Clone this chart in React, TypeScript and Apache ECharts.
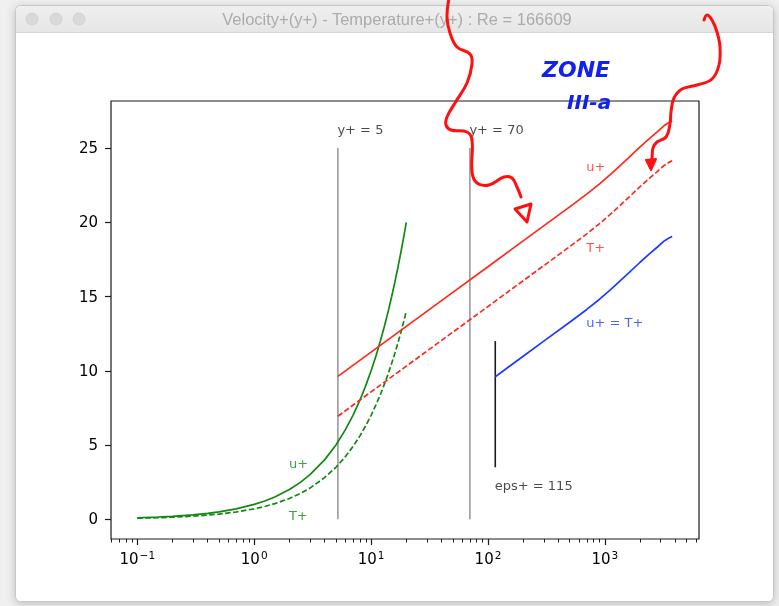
import React, { useEffect, useRef } from "react";
import * as echarts from "echarts";

// ---- axis ticks ----
const decadeTicks = [-1, 0, 1, 2, 3];
const yTickValues = [0, 5, 10, 15, 20, 25];
const X_MIN = -1.225; // log10(y+)
const X_MAX = 3.805;
const Y_MIN = -1.33;
const Y_MAX = 28.17;

// ---- viscous sublayer (green) ----
const laminarYPlus = [0.1, 0.15, 0.2, 0.3, 0.4, 0.5, 0.7, 1, 1.25, 1.5, 2, 2.5, 3, 4, 5, 6, 7, 8, 9, 10, 11, 12, 13, 14, 15, 16, 17, 18, 19, 20];
const laminarU = [0.1, 0.15, 0.2, 0.3, 0.4, 0.5, 0.7, 1, 1.25, 1.5, 2, 2.5, 3, 4, 5, 6, 7, 8, 9, 10, 11, 12, 13, 14, 15, 16, 17, 18, 19, 20];
const laminarT = [0.07, 0.105, 0.14, 0.21, 0.28, 0.35, 0.49, 0.7, 0.875, 1.05, 1.4, 1.75, 2.1, 2.8, 3.5, 4.2, 4.9, 5.6, 6.3, 7.0, 7.7, 8.4, 9.1, 9.8, 10.5, 11.2, 11.9, 12.6, 13.3, 14.0];

// ---- log region, smooth wall (red) ----
const logYPlus = [5.2, 10, 20, 50, 100, 200, 500, 700, 900, 1100, 1300, 1600, 2000, 2400, 2800, 3200, 3500, 3760];
const logU = [9.62, 11.26, 12.99, 15.28, 17.01, 18.75, 21.04, 21.9, 22.59, 23.18, 23.7, 24.36, 25.08, 25.64, 26.09, 26.5, 26.7, 26.82];
const logT = [6.94, 8.58, 10.31, 12.6, 14.33, 16.07, 18.36, 19.22, 19.91, 20.5, 21.02, 21.68, 22.4, 22.96, 23.41, 23.82, 24.02, 24.14];

// ---- rough wall (blue) ----
const roughYPlus = [115.4, 200, 300, 500, 700, 900, 1100, 1300, 1600, 2000, 2400, 2800, 3200, 3500, 3760];
const roughU = [9.6, 10.98, 12.0, 13.27, 14.13, 14.82, 15.41, 15.93, 16.59, 17.31, 17.87, 18.32, 18.73, 18.93, 19.05];

// ---- markers ----
const yPlusLimits = [5.2, 70];
const limitSpan = [0, 25];
const epsPlus = 115.4;
const epsSpan = [3.5, 12];

// ---- text annotations [label, y+, value, colorKey] ----
const textLabels: [string, number, number, string][] = [
  ["y+ = 5", 5.2, 26, "k"],
  ["y+ = 70", 70, 26, "k"],
  ["u+", 700, 23.5, "r"],
  ["T+", 700, 18, "r"],
  ["u+ = T+", 700, 13, "b"],
  ["u+", 2, 3.5, "g"],
  ["T+", 2, 0, "g"],
  ["eps+ = 115", 115.4, 2, "k"],
];

const COLORS: Record<string, string> = {
  r: "#ff2a1a",
  g: "#118811",
  b: "#1f3bff",
  k: "#1a1a1a",
  gray: "#9a9a9a",
};

const FONT = "'DejaVu Sans', sans-serif";

const lg = (v: number) => Math.log10(v);
const pairs = (xs: number[], ys: number[]) => xs.map((x, i) => [lg(x), ys[i]]);

const minorTicks: number[] = [];
for (let n = -2; n <= 3; n++) {
  for (let k = 2; k <= 9; k++) {
    const v = lg(k * Math.pow(10, n));
    if (v > X_MIN && v < X_MAX) minorTicks.push(v);
  }
}

function buildOption() {
  const lineBase = {
    type: "line",
    showSymbol: false,
    symbol: "none",
    silent: true,
    smooth: false,
    xAxisIndex: 0,
    yAxisIndex: 0,
  };

  const series: any[] = [
    ...yPlusLimits.map((yp) => ({
      ...lineBase,
      data: [[lg(yp), limitSpan[0]], [lg(yp), limitSpan[1]]],
      lineStyle: { color: COLORS.gray, width: 1.6 },
    })),
    {
      ...lineBase,
      data: [[lg(epsPlus), epsSpan[0]], [lg(epsPlus), epsSpan[1]]],
      lineStyle: { color: COLORS.k, width: 1.6 },
    },
    {
      ...lineBase,
      data: pairs(laminarYPlus, laminarU),
      lineStyle: { color: COLORS.g, width: 1.7 },
    },
    {
      ...lineBase,
      data: pairs(laminarYPlus, laminarT),
      lineStyle: { color: COLORS.g, width: 1.7, type: [5.5, 2.5] },
    },
    {
      ...lineBase,
      data: pairs(logYPlus, logU),
      lineStyle: { color: COLORS.r, width: 1.7, join: "round" },
    },
    {
      ...lineBase,
      data: pairs(logYPlus, logT),
      lineStyle: { color: COLORS.r, width: 1.7, type: [5.5, 2.5] },
    },
    {
      ...lineBase,
      data: pairs(roughYPlus, roughU),
      lineStyle: { color: COLORS.b, width: 1.7, join: "round" },
    },
    {
      type: "scatter",
      silent: true,
      symbolSize: 1,
      itemStyle: { color: "rgba(0,0,0,0)" },
      data: textLabels.map(([name, x, y, c]) => ({
        name,
        value: [lg(x), y],
        label: { color: COLORS[c] },
      })),
      label: {
        show: true,
        position: [0, 0],
        align: "left",
        verticalAlign: "bottom",
        offset: [0, 3],
        fontFamily: FONT,
        fontSize: 13,
        formatter: (p: any) => p.name,
      },
      z: 5,
    },
  ];

  const red = "#ff1010";
  const annot = (points: number[][]) => ({
    type: "polyline",
    z: 100,
    shape: { points, smooth: 0.4 },
    style: { stroke: red, lineWidth: 3, fill: null, lineCap: "round", lineJoin: "round" },
  });

  const graphicElements: any[] = [
    { type: "rect", z: -20, shape: { x: 0, y: 0, width: 779, height: 606 }, style: { fill: "#f0f0f0" } },
    {
      type: "rect",
      z: -19,
      shape: { x: 15.5, y: 5.5, width: 758, height: 596, r: 5 },
      style: {
        fill: "#ffffff",
        stroke: "#c6c6c6",
        lineWidth: 1,
        shadowBlur: 10,
        shadowColor: "rgba(0,0,0,0.22)",
        shadowOffsetY: 2,
      },
    },
    {
      type: "rect",
      z: -18,
      shape: { x: 16, y: 6, width: 757, height: 26.5, r: [5, 5, 0, 0] },
      style: {
        fill: new echarts.graphic.LinearGradient(0, 0, 0, 1, [
          { offset: 0, color: "#efefef" },
          { offset: 1, color: "#e6e6e6" },
        ]),
      },
    },
    { type: "line", z: -17, shape: { x1: 16, y1: 32.5, x2: 773, y2: 32.5 }, style: { stroke: "#d6d6d6", lineWidth: 1 } },
    ...[32, 56, 79].map((cx) => ({
      type: "circle",
      z: -17,
      shape: { cx, cy: 19, r: 6 },
      style: { fill: "#d9d9d9", stroke: "#cecece", lineWidth: 0.8 },
    })),
    {
      type: "text",
      z: -17,
      x: 397,
      y: 19,
      style: {
        text: "Velocity+(y+) - Temperature+(y+) : Re = 166609",
        fill: "#ababab",
        font: "16.5px 'Liberation Sans', Arial, sans-serif",
        align: "center",
        verticalAlign: "middle",
      },
    },
    // hand-drawn annotations
    annot([
      [449, -2], [447, 17], [450, 33], [457, 47], [470, 54], [472, 64], [467, 83], [455, 103],
      [447, 117], [446, 125], [451, 130], [467, 132], [472, 140], [472, 172], [477, 183],
      [489, 185], [504, 177], [512, 178], [517, 187], [521, 197],
    ]),
    {
      type: "polygon",
      z: 100,
      shape: { points: [[515, 209], [531, 204], [527, 222]] },
      style: { stroke: red, lineWidth: 3, fill: null, lineJoin: "round" },
    },
    annot([
      [704, 20], [707, 15], [712, 20], [717, 32], [720, 47], [719, 65], [712, 79], [697, 85],
      [682, 89], [674, 98], [671, 112], [670, 124], [666, 137], [657, 142], [653, 148], [652, 158], [651, 163],
    ]),
    {
      type: "polygon",
      z: 100,
      shape: { points: [[646, 160], [656, 159], [651, 170]] },
      style: { fill: red, stroke: red, lineWidth: 2, lineJoin: "round" },
    },
    {
      type: "text",
      z: 100,
      x: 542,
      y: 58,
      style: { text: "ZONE", fill: "#1222ee", font: "bold italic 22px 'DejaVu Sans', sans-serif" },
    },
    {
      type: "text",
      z: 100,
      x: 567,
      y: 92,
      style: { text: "III-a", fill: "#1222ee", font: "bold italic 20px 'DejaVu Sans', sans-serif" },
    },
  ];

  const noLine = { show: false, onZero: false };

  return {
    animation: false,
    backgroundColor: "transparent",
    textStyle: { fontFamily: FONT },
    graphic: { elements: graphicElements },
    grid: {
      left: 111,
      top: 101,
      width: 588,
      height: 438,
      show: true,
      borderColor: "#1a1a1a",
      borderWidth: 1.2,
      backgroundColor: "#ffffff",
      z: 0,
    },
    xAxis: [
      {
        type: "value",
        min: X_MIN,
        max: X_MAX,
        position: "bottom",
        axisLine: noLine,
        splitLine: { show: false },
        axisTick: { show: true, customValues: decadeTicks, length: 6, lineStyle: { color: "#1a1a1a", width: 1.2 } },
        axisLabel: {
          show: true,
          customValues: decadeTicks,
          margin: 10,
          color: "#000",
          formatter: (v: number) => `{b|10}{s|${v < 0 ? "\u2212" + -v : v}}`,
          rich: {
            b: { fontSize: 15, fontFamily: FONT, color: "#000" },
            s: { fontSize: 10.5, fontFamily: FONT, color: "#000", padding: [0, 0, 8, 1] },
          },
        },
      },
      {
        type: "value",
        min: X_MIN,
        max: X_MAX,
        position: "bottom",
        axisLine: noLine,
        splitLine: { show: false },
        axisTick: { show: true, customValues: minorTicks, length: 3.5, lineStyle: { color: "#1a1a1a", width: 1 } },
        axisLabel: { show: false },
      },
    ],
    yAxis: {
      type: "value",
      min: Y_MIN,
      max: Y_MAX,
      axisLine: noLine,
      splitLine: { show: false },
      axisTick: { show: true, customValues: yTickValues, length: 6, lineStyle: { color: "#1a1a1a", width: 1.2 } },
      axisLabel: {
        show: true,
        customValues: yTickValues,
        margin: 13,
        fontSize: 15,
        fontFamily: FONT,
        color: "#000",
      },
    },
    series,
  };
}

export default function App() {
  const ref = useRef<HTMLDivElement>(null);
  useEffect(() => {
    if (!ref.current) return;
    const chart = echarts.init(ref.current, undefined, { renderer: "svg" });
    chart.setOption(buildOption() as any);
    return () => chart.dispose();
  }, []);
  return (
    <div
      ref={ref}
      style={{ position: "fixed", left: 0, top: 0, width: 779, height: 606 }}
    />
  );
}
